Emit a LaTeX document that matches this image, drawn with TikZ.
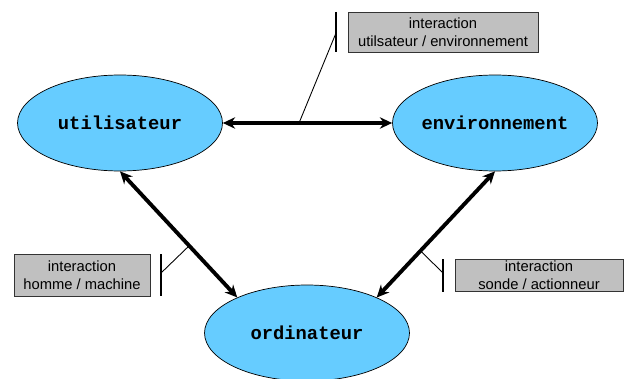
\documentclass[tikz,border=0pt]{standalone}
\usepackage{fontspec}
\setmainfont{Liberation Sans}
\setmonofont{Liberation Mono}
\usetikzlibrary{arrows.meta,shapes.geometric,shadows}
\definecolor{ciel}{HTML}{66CCFF}
\definecolor{gris}{HTML}{C0C0C0}

\begin{document}
\begin{tikzpicture}[x=0.02cm,y=-0.02cm,
		acteur/.style={ellipse,draw,thin,fill=ciel,inner xsep=-2pt,inner ysep=0pt,minimum width=4.1cm,minimum height=1.92cm,
			font=\fontsize{10.7}{12}\ttfamily\bfseries},
		etiquette/.style={rectangle,draw=black!80,fill=gris,align=center,inner sep=0pt,font=\fontsize{8.4}{10.2}\selectfont,
			drop shadow={shadow xshift=0.6pt,shadow yshift=-0.6pt,fill=black,opacity=1}},
		liaison/.style={line width=2.2pt,{Stealth[length=7pt,width=6.5pt]}-{Stealth[length=7pt,width=6.5pt]}},
		barre/.style={line width=0.9pt},
		renvoi/.style={line width=0.5pt}]
			\useasboundingbox (0,0) rectangle (624,378);
			%%
			\node[acteur] (util) at (120,123) {utilisateur};
			\node[acteur] (envi) at (495,123) {environnement};
			\node[acteur] (ordi) at (307,333) {ordinateur};
			%%
			\draw[liaison] (util) -- (envi) coordinate[pos=0.45] (m1);
			\draw[liaison] (util.south) -- (ordi.153) coordinate[pos=0.59] (m2);
			\draw[liaison] (envi.south) -- (ordi.27) coordinate[pos=0.63] (m3);
			%%
			\node[etiquette, minimum width=3.8cm, minimum height=0.8cm] (lab1) at (443,32) {interaction\\utilsateur / environnement};
			\node[etiquette, minimum width=2.72cm, minimum height=0.84cm] (lab2) at (82,275) {interaction\\homme / machine};
			\node[etiquette, minimum width=3.36cm, minimum height=0.64cm] (lab3) at (539,275) {interaction\\sonde / actionneur};
			%%
			\draw[barre] (336,12) -- (336,52);
			\draw[barre] (161,254) -- (161,296);
			\draw[barre] (443,259) -- (443,292);
			\coordinate (b1) at (336,33);
			\coordinate (b2) at (161,273);
			\coordinate (b3) at (443,273);
			\draw[renvoi] (m1) -- (b1);
			\draw[renvoi] (m2) -- (b2);
			\draw[renvoi] (m3) -- (b3);
		\end{tikzpicture}
\end{document}
